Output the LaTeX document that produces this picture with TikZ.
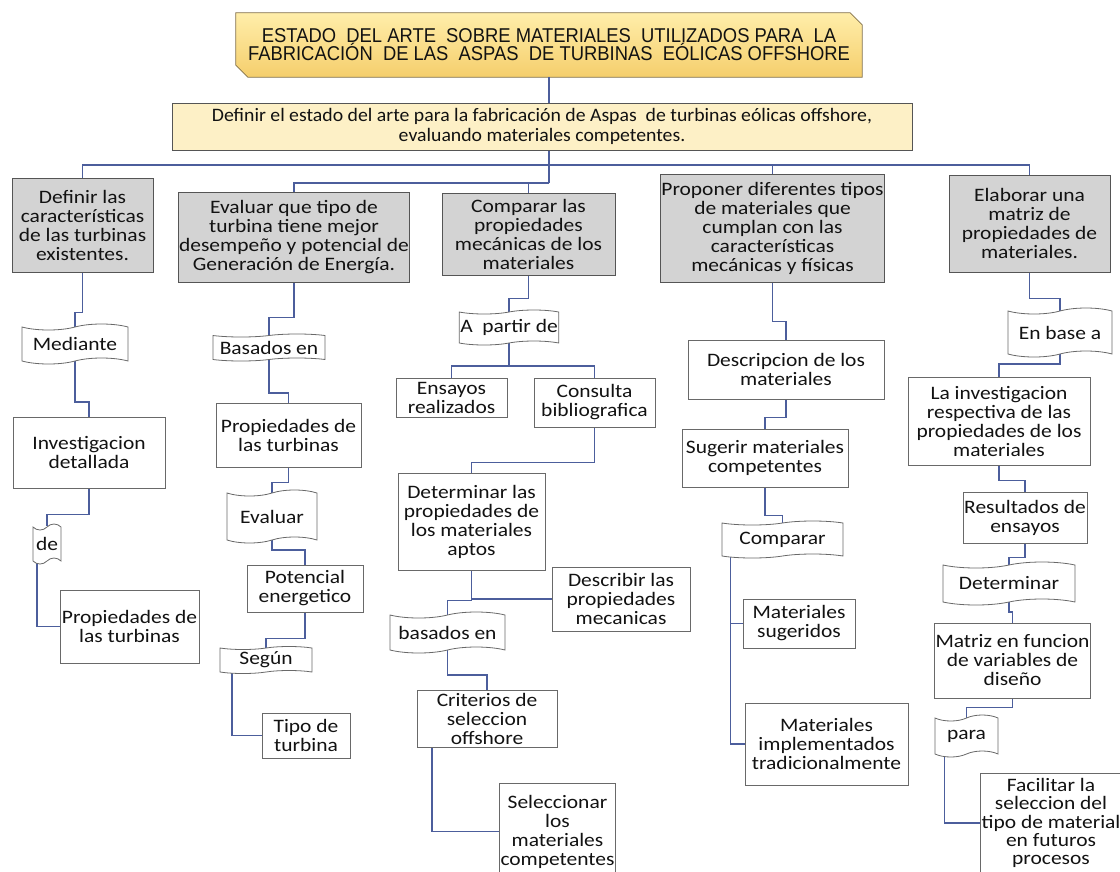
\documentclass[tikz,border=0pt]{standalone}
\usepackage{fontspec}
\setmainfont{Carlito}[FakeStretch=1.13]
\newfontfamily\bannerfont{Carlito}[FakeStretch=1.04]
\newfontfamily\titlefont{Liberation Sans}[FakeStretch=0.92]
\usetikzlibrary{shapes.symbols,backgrounds}
\definecolor{conn}{RGB}{76,94,156}
\definecolor{hdrgray}{RGB}{211,211,211}
\definecolor{edge}{RGB}{85,85,85}
\definecolor{wedge}{RGB}{105,105,105}
\definecolor{bannerfill}{RGB}{253,240,198}
\definecolor{titletop}{RGB}{255,238,170}
\definecolor{titlebot}{RGB}{245,206,108}
\definecolor{titleedge}{RGB}{130,112,72}
\definecolor{ink}{RGB}{18,18,18}
\begin{document}
\begin{tikzpicture}[x=1pt,y=-1pt,
  every node/.style={text=ink, align=center, inner sep=1pt, font=\fontsize{19}{19}\selectfont},
  sz/.style 2 args={minimum width=#1pt, minimum height=#2pt},
  hdr/.style={rectangle, draw=edge, line width=0.9pt, fill=hdrgray},
  wbox/.style={rectangle, draw=wedge, line width=0.8pt, fill=white},
  tapebox/.style={tape, draw=wedge, line width=0.8pt, fill=white, tape bend height=6pt},
  cnx/.style={draw=conn, line width=1.7pt},
]
\useasboundingbox (0,0) rectangle (1120,871);

% title and banner
\node[font=\titlefont\fontsize{20}{18}\selectfont, sz={626}{64}] (title) at (549,45)
  {ESTADO\ \ DEL ARTE\ \ SOBRE MATERIALES\ \ UTILIZADOS PARA\ \ LA\\FABRICACIÓN\ \ DE LAS\ \ ASPAS\ \ DE TURBINAS\ \ EÓLICAS OFFSHORE};
\node[rectangle, draw=edge, line width=0.9pt, fill=bannerfill, font=\bannerfont\fontsize{19}{19.5}\selectfont, sz={740}{47}] (banner) at (542,126.5)
  {Definir el estado del arte para la fabricación de Aspas\ \ de turbinas eólicas offshore,\\evaluando materiales competentes.};

% column 1
\node[hdr, sz={141}{94}] (a1) at (82.5,225) {Definir las\\características\\de las turbinas\\existentes.};
\node[tapebox, sz={106}{40}] (mediante) at (75,344) {Mediante};
\node[wbox, sz={152}{71}] (inv) at (89,452.5) {Investigacion\\detallada};
\node[tapebox, sz={28}{40}, inner sep=0pt] (de) at (47,544) {de};
\node[wbox, sz={139}{73}] (prop1) at (129.5,626.5) {Propiedades de\\las turbinas};

% column 2
\node[hdr, sz={228}{90}] (a2) at (294,237) {Evaluar que tipo de\\turbina tiene mejor\\desempeño y potencial de\\Generación de Energía.};
\node[tapebox, sz={112}{27}, tape bend height=3pt] (basados) at (269,347.5) {Basados en};
\node[wbox, sz={145}{64}] (prop2) at (288.5,435) {Propiedades de\\las turbinas};
\node[tapebox, sz={90}{53}] (evaluar) at (272,516.5) {Evaluar};
\node[wbox, sz={116}{47}] (potencial) at (305,588.5) {Potencial\\energetico};
\node[tapebox, sz={92}{27}, tape bend height=3pt] (segun) at (266,660) {Según};
\node[wbox, sz={88}{45}] (tipo) at (306,735.5) {Tipo de\\turbina};

% column 3
\node[hdr, sz={173}{82}] (a3) at (528.5,234) {Comparar las\\propiedades\\mecánicas de los\\materiales};
\node[tapebox, sz={98}{35}, tape bend height=4pt] (apartir) at (509,327.5) {A\ \ partir de};
\node[wbox, sz={111}{39}] (ensayos) at (451.5,397.5) {Ensayos\\realizados};
\node[wbox, sz={121}{49}] (consulta) at (594.5,402.5) {Consulta\\bibliografica};
\node[wbox, sz={147}{97}] (determinar) at (471.5,521.5) {Determinar las\\propiedades de\\los materiales\\aptos};
\node[wbox, sz={138}{64}] (describir) at (621,599) {Describir las\\propiedades\\mecanicas};
\node[tapebox, sz={115}{41}] (basados2) at (447.5,632.5) {basados en};
\node[wbox, sz={140}{57}] (criterios) at (487,718.5) {Criterios de\\seleccion\\offshore};
\node[wbox, sz={115}{97}] (seleccionar) at (557.5,831.5) {Seleccionar\\los\\materiales\\competentes};

% column 4
\node[hdr, sz={219}{108}] (a4) at (772.5,228) {Proponer diferentes tipos\\de materiales que\\cumplan con las\\características\\mecánicas y físicas};
\node[wbox, sz={196}{59}] (descripcion) at (786,369.5) {Descripcion de los\\materiales};
\node[wbox, sz={166}{58}] (sugerir) at (765,458) {Sugerir materiales\\competentes};
\node[tapebox, sz={121}{37}, tape bend height=4pt] (comparar) at (782.5,539.5) {Comparar};
\node[wbox, sz={112}{49}] (matsug) at (799,623.5) {Materiales\\sugeridos};
\node[wbox, sz={163}{82}] (matimp) at (826.5,744) {Materiales\\implementados\\tradicionalmente};

% column 5
\node[hdr, sz={161}{97}] (a5) at (1029.5,223.5) {Elaborar una\\matriz de\\propiedades de\\materiales.};
\node[tapebox, sz={104}{49}] (enbase) at (1060,332.5) {En base a};
\node[wbox, sz={182}{88}] (lainv) at (999,421) {La investigacion\\respectiva de las\\propiedades de los\\materiales};
\node[wbox, sz={124}{51}] (resultados) at (1025,517.5) {Resultados de\\ensayos};
\node[tapebox, sz={132}{43}] (determinar2) at (1009,583.5) {Determinar};
\node[wbox, sz={155}{75}] (matriz) at (1012.5,660.5) {Matriz en funcion\\de variables de\\diseño};
\node[tapebox, sz={63}{42}] (para) at (966.5,736) {para};
\node[wbox, sz={138}{100}, font=\fontsize{19}{18.2}\selectfont] (facilitar) at (1051,823) {Facilitar la\\seleccion del\\tipo de material\\en futuros\\procesos};

\coordinate (bj) at (549,165);
\coordinate (bj2) at (549,183);

\begin{scope}[on background layer]
\fill[white] (0,0) rectangle (1120,871);
\shadedraw[top color=titletop, bottom color=titlebot, draw=titleedge, line width=0.8pt]
  (title.north west) -- ([xshift=-12pt]title.north east) -- ([yshift=-12pt]title.north east)
  -- (title.south east) -- ([xshift=12pt]title.south west) -- ([yshift=12pt]title.south west) -- cycle;
% top connectors
\draw[cnx] (title.south) -- (title.south |- banner.north);
\draw[cnx] (banner.south -| title.south) -- (bj2);
\draw[cnx] (a1.north) |- (bj) -| (a5.north);
\draw[cnx] (bj) -| (a4.north);
\draw[cnx] (bj2) -| (a2.north);
\draw[cnx] (bj2) -| (a3.north);
% column 1
\draw[cnx] (a1.south) -- ++(0,40) -| (mediante.north);
\draw[cnx] (mediante.south) -- ++(0,41) -| (inv.north);
\draw[cnx] (inv.south) -- ++(0,26) -| (de.north);
\draw[cnx] ([xshift=-10pt]de.south) |- (prop1.west);
% column 2
\draw[cnx] (a2.south) -- ++(0,35) -| (basados.north);
\draw[cnx] (basados.south) -- ++(0,33) -| (prop2.north);
\draw[cnx] (prop2.south) -- ++(0,15) -| (evaluar.north);
\draw[cnx] (evaluar.south) -- ++(0,10) -| (potencial.north);
\draw[cnx] (potencial.south) -- ++(0,26) -| (segun.north);
\draw[cnx] ([xshift=-34pt]segun.south) |- (tipo.west);
% column 3
\draw[cnx] (a3.south) -- ++(0,23) -| (apartir.north);
\draw[cnx] (apartir.south) -- ++(0,23) -| (ensayos.north);
\draw[cnx] (apartir.south) -- ++(0,23) -| (consulta.north);
\draw[cnx] (consulta.south) -- ++(0,35) -| (determinar.north);
\draw[cnx] (determinar.south) |- (describir.west);
\draw[cnx] (determinar.south) -- ++(0,30) -| (basados2.north);
\draw[cnx] (basados2.south) -- ++(0,25) -| (criterios.north);
\draw[cnx] ([xshift=-55pt]criterios.south) |- (seleccionar.west);
% column 4
\draw[cnx] (a4.south) -- ++(0,39) -| (descripcion.north);
\draw[cnx] (descripcion.south) -- ++(0,18) -| (sugerir.north);
\draw[cnx] (sugerir.south) -- ++(0,28) -| (comparar.north);
\draw[cnx] ([xshift=-52pt]comparar.south) |- (matsug.west);
\draw[cnx] ([xshift=-52pt]comparar.south) |- (matimp.west);
% column 5
\draw[cnx] (a5.south) -- ++(0,26) -| (enbase.north);
\draw[cnx] (enbase.south) -- ++(0,10) -| (lainv.north);
\draw[cnx] (lainv.south) -- ++(0,15) -| (resultados.north);
\draw[cnx] (resultados.south) -- ++(0,14) -| (determinar2.north);
\draw[cnx] (determinar2.south) -- ++(0,10) -| (matriz.north);
\draw[cnx] (matriz.south) -- ++(0,9) -| (para.north);
\draw[cnx] ([xshift=-22pt]para.south) |- (facilitar.west);
\end{scope}
\end{tikzpicture}
\end{document}
